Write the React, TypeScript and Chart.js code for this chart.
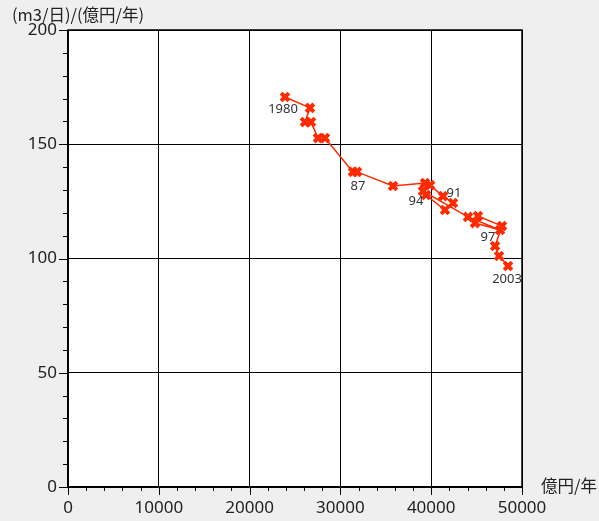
import React, { useEffect, useRef } from "react";
import { Chart, registerables } from "chart.js";

Chart.register(...registerables);

const years = [
  "1980", "1981", "1982", "1983", "1984", "1985", "1986", "1987",
  "1988", "1989", "1990", "1991", "1992", "1993", "1994", "1995",
  "1996", "1997", "1998", "1999", "2000", "2001", "2002", "2003",
];
const xValues = [
  23900, 26650, 26100, 26760, 27530, 28300, 31390, 31830,
  35790, 39320, 39870, 41300, 42400, 41520, 39430, 39100,
  44050, 47580, 44820, 45150, 47800, 47030, 47470, 48460,
];
const yValues = [
  170.7, 165.9, 159.7, 159.7, 152.7, 152.7, 137.9, 137.9,
  131.7, 133.0, 132.1, 127.3, 124.3, 121.2, 127.8, 129.5,
  118.2, 112.5, 115.5, 118.6, 114.2, 105.5, 101.1, 96.7,
];
const labelIndices = [0, 7, 11, 14, 17, 23];
const labelTexts = ["1980", "87", "91", "94", "97", "2003"];
const xTickStep = 10000;
const yTickStep = 50;
const xMinorStep = 2000;
const yMinorStep = 10;
const yTitle = "(m3/日)/(億円/年)";
const xTitle = "億円/年";

const labelOffsets: Record<string, [number, number]> = {
  "1980": [-2, 12],
  "87": [1, 14],
  "91": [11, -3],
  "94": [-10, 6],
  "97": [-12, 7],
  "2003": [-1, 13],
};

const decorPlugin = {
  id: "decor",
  beforeDraw(chart: any) {
    const { ctx, chartArea: a, width, height } = chart;
    ctx.save();
    ctx.fillStyle = "#efefef";
    ctx.fillRect(0, 0, width, height);
    ctx.fillStyle = "#ffffff";
    ctx.fillRect(a.left, a.top, a.right - a.left, a.bottom - a.top);
    ctx.restore();
  },
  afterDraw(chart: any) {
    const { ctx, chartArea: a } = chart;
    const xs = chart.scales.x;
    const ys = chart.scales.y;
    ctx.save();
    ctx.strokeStyle = "#000";
    ctx.lineWidth = 1.5;
    ctx.strokeRect(a.left, a.top, a.right - a.left, a.bottom - a.top);
    ctx.lineWidth = 2;
    ctx.beginPath();
    ctx.moveTo(a.left, a.top);
    ctx.lineTo(a.left, a.bottom);
    ctx.lineTo(a.right, a.bottom);
    ctx.stroke();
    ctx.lineWidth = 1;
    ctx.beginPath();
    for (let v = 0; v <= xs.max; v += xMinorStep) {
      const px = Math.round(xs.getPixelForValue(v)) + 0.5;
      const len = v % xTickStep === 0 ? 8 : 4;
      ctx.moveTo(px, a.bottom);
      ctx.lineTo(px, a.bottom + len);
    }
    for (let v = 0; v <= ys.max; v += yMinorStep) {
      const py = Math.round(ys.getPixelForValue(v)) + 0.5;
      const len = v % yTickStep === 0 ? 9 : 5;
      ctx.moveTo(a.left, py);
      ctx.lineTo(a.left - len, py);
    }
    ctx.stroke();
    ctx.fillStyle = "#222";
    ctx.font = '16.5px "Noto Sans CJK JP", "Noto Sans", sans-serif';
    ctx.textBaseline = "middle";
    ctx.textAlign = "left";
    ctx.fillText(yTitle, 12, 15);
    ctx.fillText(xTitle, 541, 486);
    ctx.font = '13px "Noto Sans", sans-serif';
    ctx.fillStyle = "#333";
    ctx.textAlign = "center";
    labelIndices.forEach((idx, i) => {
      const t = labelTexts[i];
      const off = labelOffsets[t] || [0, 12];
      const px = xs.getPixelForValue(xValues[idx]);
      const py = ys.getPixelForValue(yValues[idx]);
      ctx.fillText(t, px + off[0], py + off[1]);
    });
    ctx.restore();
  },
};

export default function App() {
  const ref = useRef<HTMLCanvasElement | null>(null);
  useEffect(() => {
    if (!ref.current) return;
    const data = xValues.map((x, i) => ({ x, y: yValues[i] }));
    const chart = new Chart(ref.current, {
      type: "scatter",
      data: {
        labels: years,
        datasets: [
          {
            data,
            showLine: true,
            borderColor: "#ff2a00",
            backgroundColor: "#ff2a00",
            borderWidth: 1.5,
            pointStyle: "crossRot",
            pointRadius: 5.5,
            pointBorderWidth: 4,
            pointBorderColor: "#ff2a00",
          },
        ],
      },
      options: {
        responsive: false,
        animation: false,
        layout: { padding: { top: 30, right: 77, left: 0, bottom: 0 } },
        plugins: { legend: { display: false }, tooltip: { enabled: false } },
        scales: {
          x: {
            type: "linear",
            min: 0,
            max: 50000,
            afterFit: (s: any) => { s.height = 34; },
            border: { display: false },
            grid: { color: "#000", lineWidth: 1, drawTicks: false },
            ticks: {
              stepSize: xTickStep,
              padding: 11,
              color: "#222",
              font: { family: '"Noto Sans", sans-serif', size: 17 },
              maxRotation: 0,
              callback: (v: any) => String(v),
            },
          },
          y: {
            type: "linear",
            min: 0,
            max: 200,
            afterFit: (s: any) => { s.width = 68; },
            border: { display: false },
            grid: { color: "#000", lineWidth: 1, drawTicks: false },
            ticks: {
              stepSize: yTickStep,
              padding: 11,
              color: "#222",
              font: { family: '"Noto Sans", sans-serif', size: 17 },
              callback: (v: any) => String(v),
            },
          },
        },
      },
      plugins: [decorPlugin],
    });
    return () => chart.destroy();
  }, []);
  return (
    <div style={{ position: "absolute", left: 0, top: 0, width: 599, height: 521 }}>
      <canvas ref={ref} width={599} height={521} />
    </div>
  );
}
